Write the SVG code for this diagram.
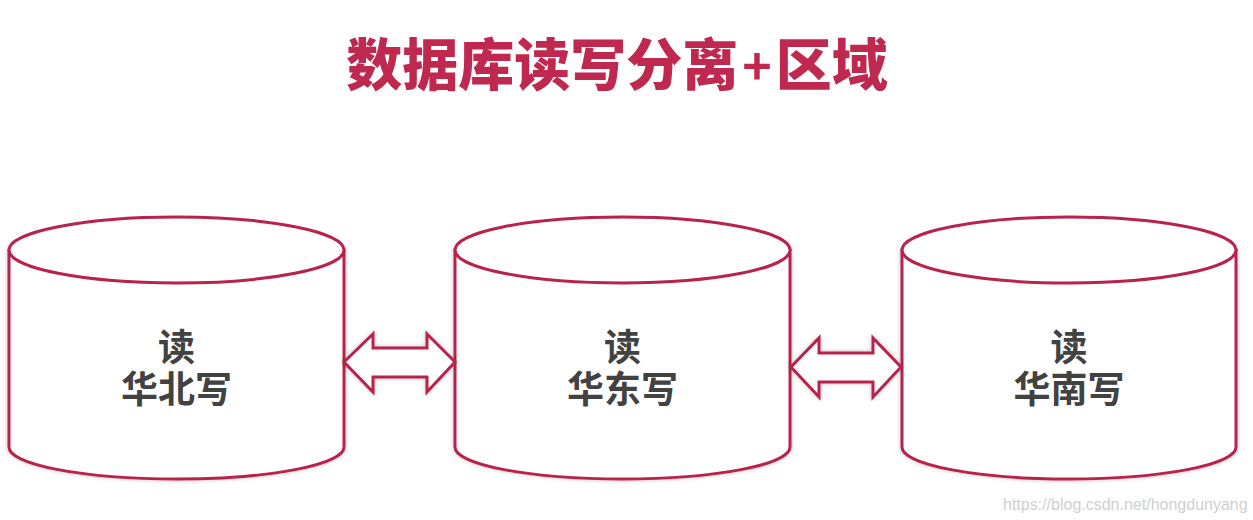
<svg xmlns="http://www.w3.org/2000/svg" width="1253" height="520" viewBox="0 0 1253 520">
<defs>
<style>
.cyl{fill:#ffffff;stroke:#b8234b;stroke-width:3;filter:url(#sh)}
.top{fill:#ffffff;stroke:#b8234b;stroke-width:3}
.lbl{font-family:"Noto Sans CJK SC","Noto Sans",sans-serif;font-weight:bold;font-size:37px;fill:#424242;text-anchor:middle}
.title{font-family:"Noto Sans CJK SC","Noto Sans",sans-serif;font-weight:900;font-size:56px;fill:#c0294f;text-anchor:middle}
.plus{font-weight:bold;font-size:50px}
.arrow{fill:#ffffff;stroke:#b8234b;stroke-width:3;stroke-linejoin:miter;filter:url(#sh)}
.wm{font-family:"Liberation Sans",Arial,sans-serif;font-size:16px;fill:#cfcfcf}
</style>
<filter id="sh" x="-10%" y="-10%" width="120%" height="120%">
<feDropShadow dx="0" dy="0" stdDeviation="2" flood-color="#000000" flood-opacity="0.25"/>
</filter>
</defs>
<rect width="1253" height="520" fill="#ffffff"/>
<text class="title" x="617" y="85">数据库读写分离<tspan class="plus" dx="4">+</tspan><tspan dx="4">区域</tspan></text>
<g id="db-north">
<path class="cyl" d="M9,250 V447 A167.5,32 0 0 0 344,447 V250 Z"/>
<ellipse class="top" cx="176.5" cy="250" rx="167.5" ry="33"/>
<text class="lbl" x="176.5" y="361">读</text>
<text class="lbl" x="176.5" y="403">华北写</text>
</g>
<g id="db-east">
<path class="cyl" d="M455,250 V447 A167.5,32 0 0 0 790,447 V250 Z"/>
<ellipse class="top" cx="622.5" cy="250" rx="167.5" ry="33"/>
<text class="lbl" x="622.5" y="361">读</text>
<text class="lbl" x="622.5" y="403">华东写</text>
</g>
<g id="db-south">
<path class="cyl" d="M902,250 V447 A167,32 0 0 0 1236,447 V250 Z"/>
<ellipse class="top" cx="1069" cy="250" rx="167" ry="33"/>
<text class="lbl" x="1069" y="361">读</text>
<text class="lbl" x="1069" y="403">华南写</text>
</g>
<g id="connectors">
<path class="arrow" d="M344,362 L373,334 V348 H427 V334 L455,362 L427,392 V377 H373 V392 Z"/>
<path class="arrow" d="M791,367 L819,338 V353 H873 V338 L901,367 L873,397 V382 H819 V397 Z"/>
</g>
<text class="wm" x="1003" y="510">https://blog.csdn.net/hongdunyang</text>
</svg>
